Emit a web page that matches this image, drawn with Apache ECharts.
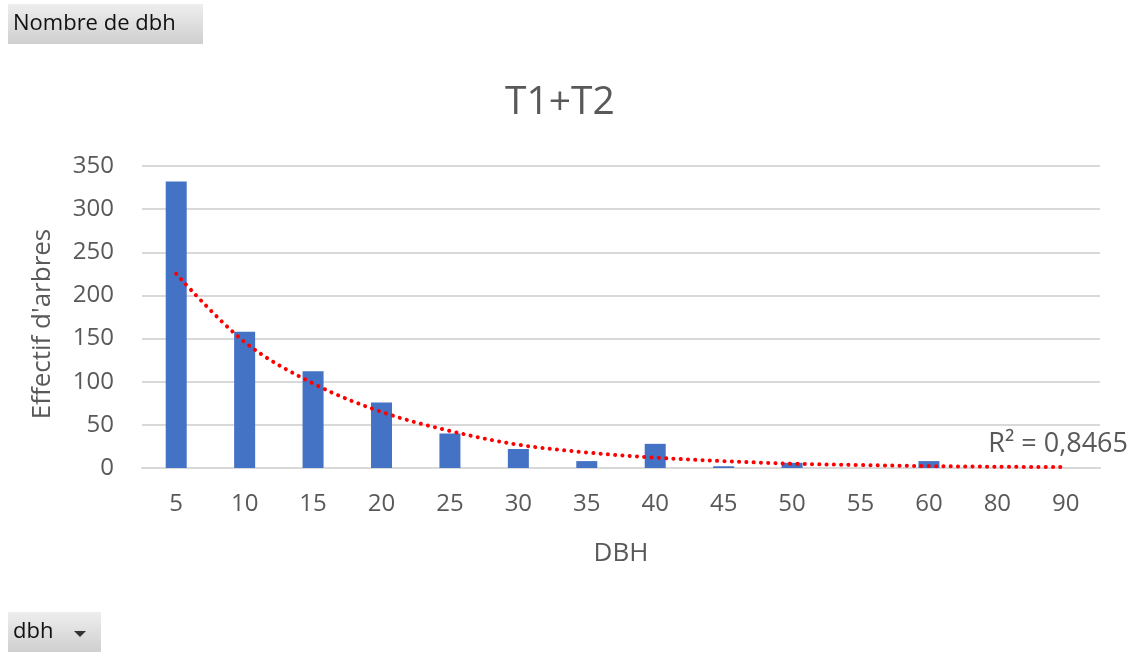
<!DOCTYPE html>
<html>
<head>
<meta charset="utf-8">
<script src="https://cdn.jsdelivr.net/npm/echarts@6/dist/echarts.min.js"></script>
<style>
  html, body { margin: 0; padding: 0; background: #ffffff; }
  #chart { width: 1136px; height: 652px; }
</style>
</head>
<body>
<div id="chart"></div>
<script>
// DBH classes (cm) shown on the category axis
const dbhClasses = ['5', '10', '15', '20', '25', '30', '35', '40', '45', '50', '55', '60', '80', '90'];
// Number of trees per DBH class
const treeCounts = [332, 158, 112, 76, 40, 22, 8, 28, 2, 6, 0, 8, 0, 0];
// Exponential trend curve values at each class
const trendValues = [225, 146, 98, 65, 43, 27, 18, 12, 8, 5, 3.4, 2.2, 1.5, 1];
// Y axis ticks
const yTicks = [0, 50, 100, 150, 200, 250, 300, 350];
const rSquaredLabel = 'R² = 0,8465';

const FONT = '"Open Sans", "Noto Sans", sans-serif';
const TXT = '#595959';

const chart = echarts.init(document.getElementById('chart'), null, { renderer: 'canvas' });

const buttonFill = new echarts.graphic.LinearGradient(0, 0, 0, 1, [
  { offset: 0, color: '#eeeeee' },
  { offset: 1, color: '#cfcfcf' }
]);

chart.setOption({
  animation: false,
  backgroundColor: '#ffffff',
  title: {
    text: 'T1+T2',
    left: 500,
    top: 78,
    textStyle: { fontFamily: FONT, fontSize: 39, fontWeight: 'normal', color: TXT }
  },
  grid: { left: 142, right: 36, top: 166, bottom: 184 },
  xAxis: {
    type: 'category',
    data: dbhClasses,
    name: 'DBH',
    nameLocation: 'middle',
    nameGap: 73,
    nameTextStyle: { fontFamily: FONT, fontSize: 26, color: TXT },
    axisLine: { lineStyle: { color: '#d9d9d9', width: 2 } },
    axisTick: { show: false },
    axisLabel: { fontFamily: FONT, fontSize: 24, color: TXT, margin: 24 }
  },
  yAxis: {
    type: 'value',
    min: yTicks[0],
    max: yTicks[yTicks.length - 1],
    interval: yTicks[1] - yTicks[0],
    name: "Effectif d'arbres",
    nameLocation: 'middle',
    nameGap: 86,
    nameRotate: 90,
    nameTextStyle: { fontFamily: FONT, fontSize: 26, color: TXT, padding: [0, 14, 0, 0] },
    axisLine: { show: false },
    axisTick: { show: false },
    axisLabel: { fontFamily: FONT, fontSize: 24, color: TXT, margin: 28 },
    splitLine: { lineStyle: { color: '#d9d9d9', width: 2 } }
  },
  series: [
    {
      type: 'bar',
      data: treeCounts,
      barWidth: 21,
      itemStyle: { color: '#4472c4' }
    },
    {
      type: 'line',
      data: trendValues,
      smooth: 0.35,
      symbol: 'none',
      z: 5,
      lineStyle: { color: '#ff0000', width: 4, type: [0.1, 7.2], cap: 'round' }
    }
  ],
  graphic: [
    {
      type: 'text',
      right: 8,
      top: 431,
      style: { text: rSquaredLabel, fontFamily: FONT, fontSize: 27, fill: TXT }
    },
    {
      type: 'group',
      left: 8, top: 4,
      children: [
        { type: 'rect', shape: { x: 0, y: 0, width: 195, height: 40 }, style: { fill: buttonFill } },
        { type: 'text', x: 5, y: 9, style: { text: 'Nombre de dbh', fontFamily: FONT, fontSize: 22, fill: '#111111' } }
      ]
    },
    {
      type: 'group',
      left: 8, top: 612,
      children: [
        { type: 'rect', shape: { x: 0, y: 0, width: 93, height: 40 }, style: { fill: buttonFill } },
        { type: 'text', x: 5, y: 9, style: { text: 'dbh', fontFamily: FONT, fontSize: 22, fill: '#111111' } },
        { type: 'polygon', shape: { points: [[66, 19], [78, 19], [72, 25]] }, style: { fill: '#333333' } }
      ]
    }
  ]
});
</script>
</body>
</html>
